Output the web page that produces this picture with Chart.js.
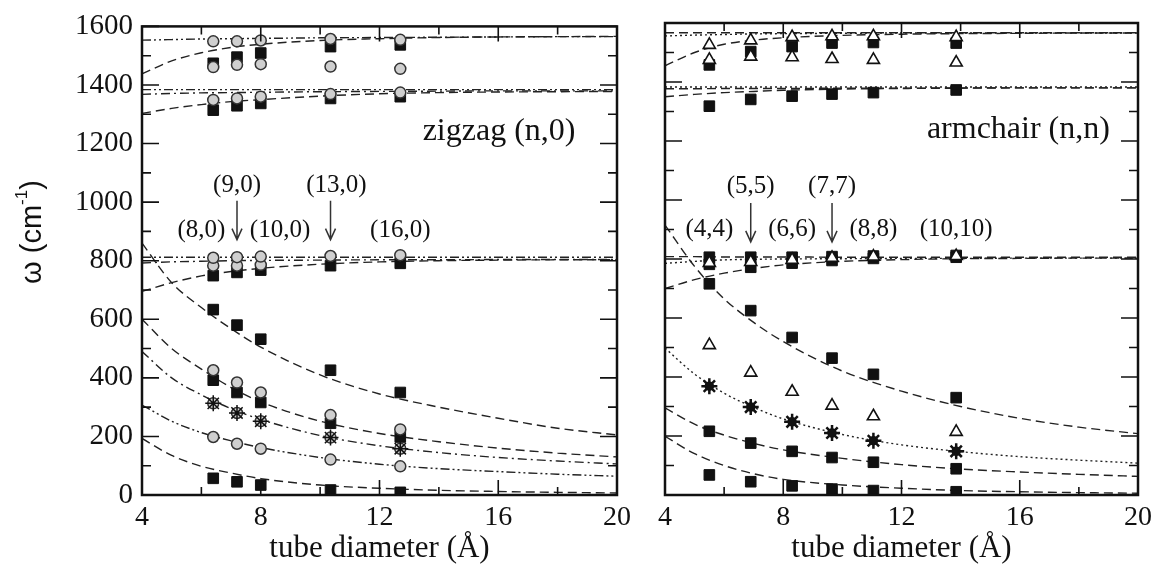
<!DOCTYPE html>
<html>
<head>
<meta charset="utf-8">
<script src="https://cdn.jsdelivr.net/npm/chart.js@4.4.1/dist/chart.umd.min.js"></script>
<style>
  html, body { margin: 0; padding: 0; background: #fff; }
  #wrap { position: relative; width: 1160px; height: 564px; overflow: hidden; }
  #left { position: absolute; left: 0; top: 0; width: 640px; height: 564px; }
  #right { position: absolute; left: 640px; top: 0; width: 520px; height: 564px; }
</style>
</head>
<body>
<div id="wrap">
  <div id="left"><canvas id="zigChart"></canvas></div>
  <div id="right"><canvas id="armChart"></canvas></div>
</div>
<script>
// tube diameters (Å)
const zigX = [6.4, 7.2, 8.0, 10.35, 12.7];
const armX = [5.5, 6.9, 8.3, 9.65, 11.05, 13.85];
const curveX = [4, 5, 6, 7, 8, 10, 12, 14, 16, 18, 20];

const xTicks = [4, 8, 12, 16, 20];
const yTicks = [0, 200, 400, 600, 800, 1000, 1200, 1400, 1600];

// zigzag (n,0) points, cm-1
const zigCircTop = [1549, 1549, 1552, 1557, 1554];
const zigSqG = [1474, 1495, 1509, 1531, 1537];
const zigCircG = [1461, 1469, 1471, 1463, 1455];
const zigCircD = [1349, 1354, 1360, 1369, 1374];
const zigSqD = [1314, 1329, 1337, 1354, 1360];
const zigCirc800 = [810, 812, 814, 816, 819];
const zigCirc790 = [783, 783, 786, null, null];
const zigSq800 = [749, 760, 768, 783, 791];
const zigSq600 = [633, 580, 532, 426, 350];
const zigCirc400 = [426, 384, 350, 273, 224];
const zigSq400 = [392, 350, 316, 245, 198];
const zigStar = [313, 280, 252, 196, 158];
const zigCirc200 = [198, 175, 158, 121, 98];
const zigSq50 = [57, 45, 34, 17, 9];

// zigzag fitted curves (read at curveX)
const zigFitTop = [1438, 1482, 1510, 1528, 1539, 1552, 1558, 1562, 1564, 1565, 1566];
const zigFlatTop = [1553, 1555, 1557, 1558, 1559, 1561, 1562, 1563, 1564, 1565, 1565];
const zigFitD = [1303, 1320, 1333, 1343, 1350, 1362, 1370, 1374, 1376, 1377, 1378];
const zigFlatD1 = [1384, 1384, 1384, 1384, 1384, 1384, 1384, 1384, 1384, 1384, 1384];
const zigFlatD2 = [1368, 1371, 1373, 1374, 1375, 1377, 1378, 1379, 1380, 1380, 1380];
const zigFit800 = [695, 725, 748, 763, 774, 788, 796, 800, 802, 803, 803];
const zigFlat812 = [812, 812, 812, 812, 812, 812, 812, 812, 812, 812, 812];
const zigFlat800 = [792, 796, 798, 800, 801, 802, 803, 803, 804, 804, 804];
const zigFitA = [860, 725, 640, 568, 505, 410, 345, 300, 262, 228, 205];
const zigFitB = [600, 500, 430, 367, 318, 252, 210, 182, 160, 143, 130];
const zigFitC = [490, 400, 342, 295, 258, 203, 168, 145, 128, 116, 106];
const zigFitE = [307, 252, 213, 185, 162, 128, 105, 90, 80, 71, 64];
const zigFitF = [193, 135, 98, 75, 56, 34, 23, 16, 12, 9, 7];

// armchair (n,n) points, cm-1
const armTriTop = [1526, 1541, 1552, 1555, 1555, 1552];
const armSqG = [1458, 1503, 1520, 1532, 1534, 1532];
const armTriG = [1475, 1486, 1484, 1478, 1475, 1466];
const armSqD = [1318, 1341, 1352, 1359, 1364, 1373];
const armSq800a = [806, 806, 806, 808, 810, 812];
const armSq800b = [782, 772, 786, 795, 802, 806];
const armTri800 = [787, 790, 797, 804, 808, 810];
const armSq600 = [716, 625, 534, 464, 409, 330];
const armTri400 = [508, 415, 350, 303, 267, 214];
const armStar = [369, 298, 248, 210, 184, 148];
const armSq200 = [216, 176, 148, 127, 111, 89];
const armSq50 = [68, 45, 31, 20, 15, 11];

// armchair fitted curves (read at curveX)
const armFitTop = [1455, 1500, 1528, 1542, 1550, 1558, 1562, 1564, 1565, 1566, 1566];
const armDotTop = [1556, 1559, 1561, 1563, 1564, 1565, 1566, 1566, 1566, 1566, 1566];
const armFlatTop = [1567, 1567, 1567, 1567, 1567, 1567, 1567, 1567, 1567, 1567, 1567];
const armFitD = [1350, 1358, 1364, 1368, 1372, 1376, 1378, 1379, 1380, 1380, 1380];
const armDotD = [1383, 1383, 1383, 1383, 1383, 1383, 1383, 1383, 1383, 1383, 1383];
const armFlatD = [1377, 1377, 1378, 1378, 1378, 1379, 1379, 1380, 1380, 1380, 1380];
const armFit800 = [700, 730, 752, 768, 780, 792, 798, 801, 802, 803, 803];
const armDot800 = [785, 792, 797, 799, 800, 801, 802, 802, 803, 803, 803];
const armFlat808 = [808, 808, 807, 807, 807, 806, 806, 806, 806, 806, 806];
const armFitA = [915, 775, 665, 585, 520, 420, 352, 300, 260, 230, 208];
const armFitX = [498, 410, 345, 297, 258, 205, 170, 147, 130, 118, 108];
const armFitY = [295, 240, 203, 175, 153, 124, 103, 88, 78, 70, 63];
const armFitZ = [199, 140, 100, 72, 53, 34, 23, 15, 11, 8, 6];

const zigLabels = ['(8,0)', '(9,0)', '(10,0)', '(13,0)', '(16,0)'];
const armLabels = ['(4,4)', '(5,5)', '(6,6)', '(7,7)', '(8,8)', '(10,10)'];

const DASH = [9, 5];
const DASHDOT = [9, 4, 2, 4];
const DASHDOTDOT = [9, 3, 2, 3, 2, 3];
const DOT = [2, 3];

function pts(xs, ys) {
    const out = [];
    for (let i = 0; i < xs.length; i++) {
        if (ys[i] !== null) out.push({ x: xs[i], y: ys[i] });
    }
    return out;
}

function curve(ys, dash) {
    return {
        data: pts(curveX, ys), showLine: true, borderColor: '#222', borderWidth: 1.4,
        borderDash: dash, pointRadius: 0, cubicInterpolationMode: 'monotone', order: 10
    };
}
function squares(xs, ys) {
    return { data: pts(xs, ys), pointStyle: 'rect', pointRadius: 7.5, backgroundColor: '#111', borderColor: '#111', borderWidth: 1, order: 4 };
}
function circles(xs, ys) {
    return { data: pts(xs, ys), pointStyle: 'circle', pointRadius: 5.5, backgroundColor: '#cfcfcf', borderColor: '#333', borderWidth: 1.5, order: 2 };
}
function triangles(xs, ys) {
    return { data: pts(xs, ys), pointStyle: 'triangle', pointRadius: 7, backgroundColor: '#fff', borderColor: '#111', borderWidth: 1.6, order: 2 };
}
function stars(xs, ys, width) {
    return { data: pts(xs, ys), pointStyle: 'star', pointRadius: 8, backgroundColor: '#111', borderColor: '#111', borderWidth: width, order: 1 };
}

// frame, inward ticks, labels and arrows
const panelDeco = {
    id: 'panelDeco',
    afterDraw(chart, args, opts) {
        const ctx = chart.ctx;
        const { left, right, top, bottom } = chart.chartArea;
        const xs = chart.scales.x, ys = chart.scales.y;
        ctx.save();
        ctx.strokeStyle = '#111';
        ctx.lineWidth = 1.6;
        ctx.beginPath();
        for (let v = xs.min; v <= xs.max; v += 2) {
            const px = xs.getPixelForValue(v);
            const len = v % 4 === 0 ? 15 : 8;
            ctx.moveTo(px, bottom); ctx.lineTo(px, bottom - len);
            ctx.moveTo(px, top); ctx.lineTo(px, top + len);
        }
        for (let v = ys.min; v <= ys.max; v += 100) {
            const py = ys.getPixelForValue(v);
            const len = v % 200 === 0 ? 17 : 9;
            ctx.moveTo(left, py); ctx.lineTo(left + len, py);
            ctx.moveTo(right, py); ctx.lineTo(right - len, py);
        }
        ctx.stroke();
        ctx.lineWidth = 2.5;
        ctx.strokeRect(left, top, right - left, bottom - top);

        ctx.fillStyle = '#111';
        ctx.textAlign = 'center';
        ctx.textBaseline = 'middle';
        ctx.font = '25px "Liberation Serif"';
        opts.labels.forEach(l => {
            ctx.fillText(l.text, xs.getPixelForValue(l.x), ys.getPixelForValue(l.y));
        });

        ctx.strokeStyle = '#333';
        ctx.lineWidth = 1.5;
        opts.arrows.forEach(a => {
            const px = xs.getPixelForValue(a.x);
            const y1 = ys.getPixelForValue(a.from), y2 = ys.getPixelForValue(a.to);
            ctx.beginPath();
            ctx.moveTo(px, y1); ctx.lineTo(px, y2);
            ctx.moveTo(px - 5, y2 - 11); ctx.lineTo(px, y2); ctx.lineTo(px + 5, y2 - 11);
            ctx.stroke();
        });

        ctx.font = '32px "Liberation Serif"';
        ctx.textAlign = 'right';
        ctx.fillText(opts.title.text, xs.getPixelForValue(opts.title.x), ys.getPixelForValue(opts.title.y));

        if (opts.yTitle) {
            ctx.translate(33, 232);
            ctx.rotate(-Math.PI / 2);
            ctx.textAlign = 'left';
            const big = '29px "Liberation Sans"', small = '17px "Liberation Sans"';
            ctx.font = big;
            const w1 = ctx.measureText('ω (cm').width;
            const w3 = ctx.measureText(')').width;
            ctx.font = small;
            const w2 = ctx.measureText('-1').width;
            let x0 = -(w1 + w2 + w3) / 2;
            ctx.font = big;
            ctx.fillText('ω (cm', x0, 0);
            ctx.font = small;
            ctx.fillText('-1', x0 + w1, -11);
            ctx.font = big;
            ctx.fillText(')', x0 + w1 + w2, 0);
        }
        ctx.restore();
    }
};

function makePanel(id, datasets, deco, showY) {
    const ctx = document.getElementById(id).getContext('2d');
    return new Chart(ctx, {
        type: 'scatter',
        data: { datasets: datasets },
        options: {
            responsive: true,
            maintainAspectRatio: false,
            animation: false,
            layout: { padding: showY ? { top: 23, right: 23, left: 0, bottom: 0 } : { top: 23, right: 22, left: 25, bottom: 0 } },
            plugins: { legend: { display: false }, tooltip: { enabled: false }, panelDeco: deco },
            scales: {
                x: {
                    type: 'linear', min: 4, max: 20,
                    afterBuildTicks: s => { s.ticks = xTicks.map(v => ({ value: v })); },
                    afterFit: s => { s.height = 69; },
                    grid: { display: false, drawTicks: false },
                    border: { display: false },
                    ticks: { color: '#111', padding: 6, callback: v => String(v), font: { family: 'Liberation Serif', size: 28 } },
                    title: {
                        display: true, text: 'tube diameter (Å)', color: '#111',
                        padding: { top: 0, bottom: 0 },
                        font: { family: 'Liberation Serif', size: 31, lineHeight: 1 }
                    }
                },
                y: {
                    type: 'linear', min: 0, max: 1600, display: showY,
                    afterBuildTicks: s => { s.ticks = yTicks.map(v => ({ value: v })); },
                    afterFit: s => { s.width = showY ? 142 : 0; },
                    grid: { display: false, drawTicks: false },
                    border: { display: false },
                    ticks: { color: '#111', padding: 9, callback: v => String(v), font: { family: 'Liberation Serif', size: 29 } }
                }
            }
        },
        plugins: [panelDeco]
    });
}

const zigSets = [
    stars(zigX, zigStar, 1.5),
    circles(zigX, zigStar),
    circles(zigX, zigCircTop), circles(zigX, zigCircG), circles(zigX, zigCircD),
    circles(zigX, zigCirc800), circles(zigX, zigCirc790),
    circles(zigX, zigCirc400), circles(zigX, zigCirc200),
    squares(zigX, zigSqG), squares(zigX, zigSqD), squares(zigX, zigSq800),
    squares(zigX, zigSq600), squares(zigX, zigSq400), squares(zigX, zigSq50),
    curve(zigFitTop, DASH), curve(zigFlatTop, DASHDOTDOT),
    curve(zigFitD, DASH), curve(zigFlatD1, DASHDOTDOT), curve(zigFlatD2, DASHDOT),
    curve(zigFit800, DASH), curve(zigFlat812, DASHDOTDOT), curve(zigFlat800, DASHDOT),
    curve(zigFitA, DASH), curve(zigFitB, DASH), curve(zigFitC, DASHDOT),
    curve(zigFitE, DASHDOTDOT), curve(zigFitF, DASH)
];

const armSets = [
    stars(armX, armStar, 2.5),
    Object.assign(circles(armX, armStar), { pointRadius: 4, backgroundColor: '#111', borderColor: '#111' }),
    triangles(armX, armTriTop), triangles(armX, armTriG), triangles(armX, armTri800), triangles(armX, armTri400),
    squares(armX, armSqG), squares(armX, armSqD), squares(armX, armSq800a), squares(armX, armSq800b),
    squares(armX, armSq600), squares(armX, armSq200), squares(armX, armSq50),
    curve(armFitTop, DASH), curve(armDotTop, DOT), curve(armFlatTop, DASH),
    curve(armFitD, DASH), curve(armDotD, DOT), curve(armFlatD, DASH),
    curve(armFit800, DASH), curve(armDot800, DOT), curve(armFlat808, DASH),
    curve(armFitA, DASH), curve(armFitX, DOT), curve(armFitY, DASH), curve(armFitZ, DASH)
];

makePanel('zigChart', zigSets, {
    title: { text: 'zigzag (n,0)', x: 18.6, y: 1240 },
    labels: [
        { text: zigLabels[0], x: 6.0, y: 905 },
        { text: zigLabels[1], x: zigX[1], y: 1058 },
        { text: zigLabels[2], x: 8.65, y: 905 },
        { text: zigLabels[3], x: 10.55, y: 1058 },
        { text: zigLabels[4], x: zigX[4], y: 905 }
    ],
    arrows: [{ x: zigX[1], from: 1005, to: 872 }, { x: zigX[3], from: 1005, to: 872 }],
    yTitle: true
}, true);

makePanel('armChart', armSets, {
    title: { text: 'armchair (n,n)', x: 19.05, y: 1240 },
    labels: [
        { text: armLabels[0], x: armX[0], y: 900 },
        { text: armLabels[1], x: armX[1], y: 1045 },
        { text: armLabels[2], x: armX[2], y: 900 },
        { text: armLabels[3], x: armX[3], y: 1045 },
        { text: armLabels[4], x: armX[4], y: 900 },
        { text: armLabels[5], x: armX[5], y: 900 }
    ],
    arrows: [{ x: armX[1], from: 990, to: 858 }, { x: armX[3], from: 990, to: 858 }],
    yTitle: false
}, false);
</script>
</body>
</html>
